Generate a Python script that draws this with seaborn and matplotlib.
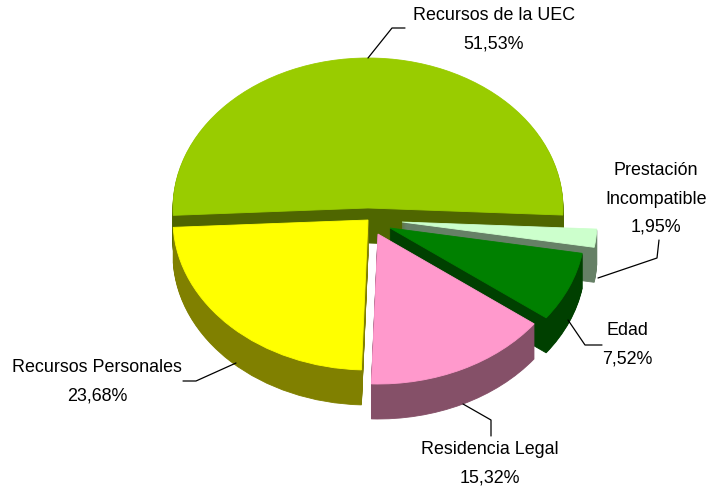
import seaborn as sns
import matplotlib.pyplot as plt

names = ['Recursos de la UEC', 'Recursos Personales', 'Residencia Legal', 'Edad', 'Prestación\nIncompatible']
values = [51.53, 23.68, 15.32, 7.52, 1.95]
top_colors = ['#99CC00', '#FFFF00', '#FF99CC', '#008000', '#CCFFCC']
side_colors = ['#4F6600', '#808000', '#855068', '#004000', '#668066']

# apex of each slice, in picture pixels
apex_x = [368, 368, 378, 390, 402]
apex_y = [208, 220, 234, 228, 222]
label_x = [494, 97, 490, 627, 656]
label_y = [30, 382, 464, 345, 199]
leaders = [
    [(405, 28), (392, 28), (368, 58)],
    [(183, 381), (196, 381), (236, 363)],
    [(491, 436), (491, 420), (463, 404)],
    [(602, 345), (585, 345), (568, 320)],
    [(659, 240), (657, 258), (598, 278)],
]

radius = 195
squash = 150 / 195
depth = 35
start = -2.7
draw_order = [0, 4, 3, 2, 1]

sns.set_theme(style='white')
plt.rcParams['font.family'] = ['Liberation Sans', 'DejaVu Sans']
fig = plt.figure(figsize=(7.1, 4.9), dpi=100)
ax = fig.add_axes([0, 0, 1, 1])


def to_y(py):
    # picture pixels to the stretched data space, so a round pie comes out flat
    return (490 - py) / squash


def draw_slice(i, py, color):
    wedges, _ = ax.pie(values, startangle=start, radius=radius,
                       center=(apex_x[i], to_y(py)), colors=[color] * len(values),
                       wedgeprops={'linewidth': 0.6, 'edgecolor': color})
    for j, w in enumerate(wedges):
        if j != i:
            w.remove()


for i in draw_order:
    for d in range(depth, 0, -1):
        draw_slice(i, apex_y[i] + d, side_colors[i])
    draw_slice(i, apex_y[i], top_colors[i])

ax.set_aspect('auto')
ax.set_xlim(0, 710)
ax.set_ylim(0, to_y(0))
ax.set_axis_off()

for i, name in enumerate(names):
    pct = f'{values[i]:.2f}%'.replace('.', ',')
    ax.text(label_x[i], to_y(label_y[i]), f'{name}\n{pct}', ha='center', va='center',
            fontsize=12.9, color='black', linespacing=1.85)
    xs = [p[0] for p in leaders[i]]
    ys = [to_y(p[1]) for p in leaders[i]]
    ax.plot(xs, ys, color='black', lw=0.9)

fig.savefig('out.png', dpi=100)
